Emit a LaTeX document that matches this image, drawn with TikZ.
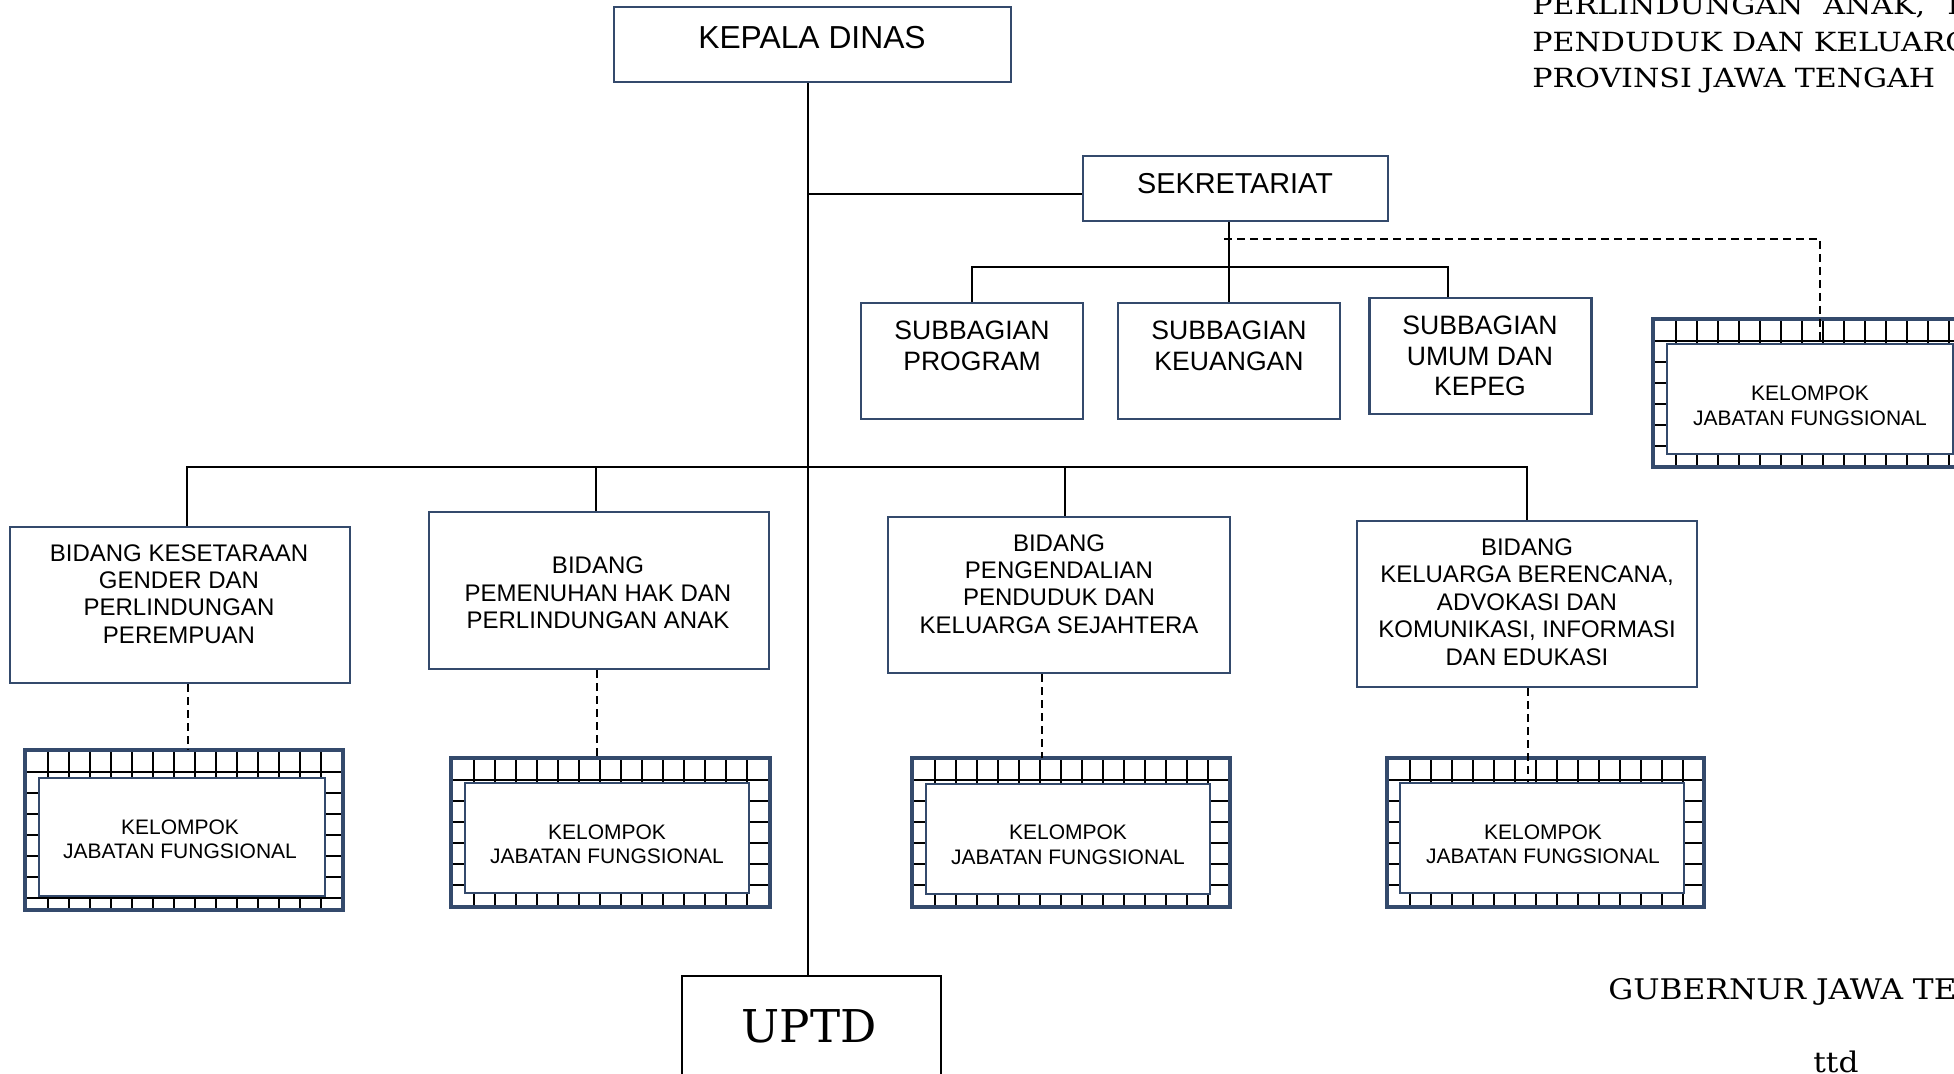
\documentclass[tikz,border=0pt]{standalone}
\usepackage{fontspec}
\usetikzlibrary{calc}
\setmainfont{Liberation Sans}
\newfontfamily\bkfont[FakeStretch=1.14]{DejaVu Serif}
\newfontfamily\gbfont[FakeStretch=1.1]{DejaVu Serif}
\newfontfamily\upfont{DejaVu Serif}
\definecolor{boxblue}{RGB}{52,74,108}
\tikzset{
  box/.style={draw=boxblue, line width=1.2pt, fill=white, inner sep=0pt},
  conn/.style={draw=black, line width=1pt},
  dsh/.style={draw=black, line width=1pt, dash pattern=on 4pt off 2.5pt},
  txt/.style={align=center, inner sep=0pt},
  gridl/.style={black, line width=1.2pt},
  kout/.style={draw=boxblue, line width=1.6pt, inner sep=0pt, outer sep=0pt},
  kin/.style={draw=boxblue, line width=1.2pt, fill=white, inner sep=0pt},
  ktxt/.style={txt, font=\fontsize{10.5}{12.25}\selectfont},
  btxt/.style={txt, font=\fontsize{12}{13.7}\selectfont},
  stxt/.style={txt, font=\fontsize{13.3}{15.25}\selectfont},
  serif/.style={anchor=base west, inner sep=0pt, font=\bkfont\fontsize{13.2}{15}\selectfont},
}
\begin{document}
\begin{tikzpicture}[x=0.5pt, y=-0.5pt]
\clip (0,0) rectangle (1954,1074);
\fill[white] (0,0) rectangle (1954,1074);

% top boxes
\node[box, minimum width=198.5pt, minimum height=37.5pt] (kepala) at (812.5,44.5) {};
\node[txt, font=\fontsize{15.9}{18}\selectfont] (tkepala) at (812,38) {KEPALA DINAS};
\node[box, minimum width=152.5pt, minimum height=32.5pt] (sek) at (1235.5,188.5) {};
\node[txt, font=\fontsize{14.4}{17}\selectfont] (tsek) at (1235,184) {SEKRETARIAT};

\node[box, minimum width=111pt, minimum height=58pt] (sp) at (972,361) {};
\node[box, minimum width=111pt, minimum height=58pt] (sk) at (1229,361) {};
\node[box, minimum width=111pt, minimum height=58pt] (su) at (1480.5,356) {};
\node[stxt] (tsp) at (972,346) {SUBBAGIAN\\PROGRAM};
\node[stxt] (tsk) at (1229,346) {SUBBAGIAN\\KEUANGAN};
\node[stxt] (tsu) at (1480,356) {SUBBAGIAN\\UMUM DAN\\KEPEG};

% bidang boxes
\node[box, minimum width=170pt, minimum height=78pt] (b1) at (180,605) {};
\node[box, minimum width=170pt, minimum height=78.5pt] (b2) at (599,590.5) {};
\node[box, minimum width=171pt, minimum height=78pt] (b3) at (1059,595) {};
\node[box, minimum width=170pt, minimum height=83pt] (b4) at (1527,604) {};
\node[btxt] (tb1) at (179,594) {BIDANG KESETARAAN\\GENDER DAN\\PERLINDUNGAN\\PEREMPUAN};
\node[btxt] (tb2) at (598,593) {BIDANG\\PEMENUHAN HAK DAN\\PERLINDUNGAN ANAK};
\node[btxt] (tb3) at (1059,584) {BIDANG\\PENGENDALIAN\\PENDUDUK DAN\\KELUARGA SEJAHTERA};
\node[btxt] (tb4) at (1527,602) {BIDANG\\KELUARGA BERENCANA,\\ADVOKASI DAN\\KOMUNIKASI, INFORMASI\\DAN EDUKASI};

% kelompok outer frames
\node[kout, minimum width=159pt, minimum height=74pt] (k0o) at (1812,393) {};
\node[kout, minimum width=159pt, minimum height=80pt] (k1o) at (184,830) {};
\node[kout, minimum width=159.5pt, minimum height=74.5pt] (k2o) at (610.5,832.5) {};
\node[kout, minimum width=159pt, minimum height=74.5pt] (k3o) at (1071,832.5) {};
\node[kout, minimum width=158.5pt, minimum height=74.5pt] (k4o) at (1545.5,832.5) {};

% grid pattern inside the frames
\foreach \o/\nx in {k0o/15,k1o/13,k2o/13,k3o/13,k4o/13}{
  \begin{scope}
    \clip ($(\o.north west)+(2,2)$) rectangle ($(\o.south east)+(-2,-2)$);
    \foreach \gx in {0,...,\nx}{
      \draw[gridl] ($(\o.north west)+({23+21*\gx},0)$) -- ($(\o.south west)+({23+21*\gx},0)$);
    }
    \foreach \gy in {0,...,7}{
      \draw[gridl] ($(\o.north west)+(0,{22+21*\gy})$) -- ($(\o.north east)+(0,{22+21*\gy})$);
    }
  \end{scope}
  \draw[boxblue, line width=1.6pt] (\o.north west) rectangle (\o.south east);
}

% kelompok inner boxes
\node[kin, minimum width=143pt, minimum height=55pt] (k0i) at (1810,399) {};
\node[ktxt] (tk0) at (1810,406) {KELOMPOK\\JABATAN FUNGSIONAL};
\node[kin, minimum width=143pt, minimum height=59pt] (k1i) at (182,837) {};
\node[ktxt] (tk1) at (180,839.5) {KELOMPOK\\JABATAN FUNGSIONAL};
\node[kin, minimum width=142pt, minimum height=55pt] (k2i) at (607,838) {};
\node[ktxt] (tk2) at (607,844.5) {KELOMPOK\\JABATAN FUNGSIONAL};
\node[kin, minimum width=142pt, minimum height=55pt] (k3i) at (1068,839) {};
\node[ktxt] (tk3) at (1068,845) {KELOMPOK\\JABATAN FUNGSIONAL};
\node[kin, minimum width=142pt, minimum height=55pt] (k4i) at (1542,838) {};
\node[ktxt] (tk4) at (1543,844.5) {KELOMPOK\\JABATAN FUNGSIONAL};

% UPTD
\node[draw=black, line width=1pt, inner sep=0pt, minimum width=129.5pt, minimum height=75pt] (uptd) at (811.5,1051) {};
\node[anchor=base, inner sep=0pt, font=\upfont\fontsize{22.6}{26}\selectfont] (tuptd) at (809,1042) {UPTD};

% connectors
\coordinate (trk) at (808,82);
\draw[conn] (kepala.south -| trk) -- (uptd.north -| trk);
\coordinate (sj) at (808,194);
\draw[conn] (sj) -- (sj -| sek.west);
\coordinate (sbar) at (1229,267);
\draw[conn] (sek.south -| sbar) -- (sbar);
\coordinate (sux) at (1448,267);
\draw[conn] (sp.north) -- (sp.north |- sbar) -- (sux) -- (sux |- su.north);
\draw[conn] (sbar) -- (sk.north);
\coordinate (ds) at (1224,239);
\coordinate (dc) at (1820,239);
\draw[dsh] (ds) -- (dc) -- (dc |- k0i.north);

\coordinate (mb1) at (187,467);
\coordinate (mb2) at (596,467);
\coordinate (mb3) at (1065,467);
\coordinate (mb4) at (1527,467);
\draw[conn] (mb1 |- b1.north) -- (mb1) -- (mb4) -- (mb4 |- b4.north);
\draw[conn] (mb2) -- (mb2 |- b2.north);
\draw[conn] (mb3) -- (mb3 |- b3.north);

\coordinate (d1) at (188,0);
\coordinate (d2) at (597,0);
\coordinate (d3) at (1042,0);
\coordinate (d4) at (1528,0);
\draw[dsh] (d1 |- b1.south) -- (d1 |- k1o.north);
\draw[dsh] (d2 |- b2.south) -- (d2 |- k2o.north);
\draw[dsh] (d3 |- b3.south) -- (d3 |- k3o.north);
\draw[dsh] (d4 |- b4.south) -- (d4 |- k4i.north);

% serif texts
\node[serif] (h1a) at (1532,15) {PERLINDUNGAN};
\node[serif] (h1b) at (1823,15) {ANAK,};
\node[serif] (h1c) at (1947,15) {PENGENDALIAN};
\node[serif] (h2) at (1532,52) {PENDUDUK DAN KELUARGA BERENCANA};
\node[serif] (h3) at (1532,88) {PROVINSI JAWA TENGAH};
\node[serif, font=\gbfont\fontsize{14.2}{16}\selectfont] (gub) at (1608,999) {GUBERNUR JAWA TENGAH};
\node[serif, font=\gbfont\fontsize{14.2}{16}\selectfont] (ttd) at (1813,1072) {ttd};
\end{tikzpicture}
\end{document}
